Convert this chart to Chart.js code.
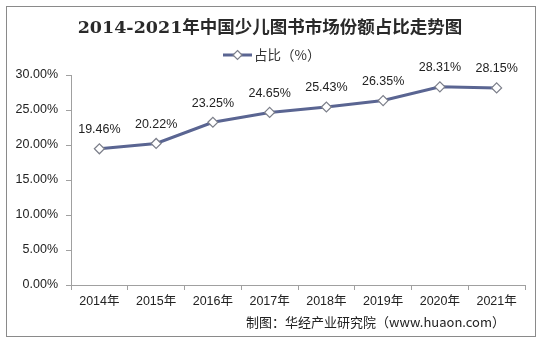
<!DOCTYPE html>
<html lang="zh-CN">
<head>
<meta charset="UTF-8">
<title>2014-2021年中国少儿图书市场份额占比走势图</title>
<script src="https://cdn.jsdelivr.net/npm/chart.js"></script>
<style>
  html, body { margin: 0; padding: 0; background: #fff; }
  #wrap { position: relative; width: 544px; height: 344px; }
</style>
</head>
<body>
<div id="wrap"><canvas id="myChart" width="544" height="344"></canvas></div>
<script>
// 年份与占比（%）
const years = ['2014年', '2015年', '2016年', '2017年', '2018年', '2019年', '2020年', '2021年'];
const share = [19.46, 20.22, 23.25, 24.65, 25.43, 26.35, 28.31, 28.15];
const yTicks = [0, 5, 10, 15, 20, 25, 30];

const titleText = '2014-2021年中国少儿图书市场份额占比走势图';
const legendText = '占比（%）';
const sourceText = '制图：华经产业研究院（www.huaon.com）';

const lineColor = '#5a6592';
const labelFont = '12.5px "Liberation Sans", Arial, "Noto Sans CJK SC", sans-serif';

// 边框、标题、图例、数据标签、来源
const decor = {
  id: 'decor',
  afterDraw(chart) {
    const ctx = chart.ctx;
    ctx.save();
    ctx.strokeStyle = '#8a8a8a';
    ctx.lineWidth = 1;
    ctx.strokeRect(6.5, 6.5, 529, 330);

    ctx.fillStyle = '#2a2a2a';
    ctx.textAlign = 'center';
    ctx.textBaseline = 'middle';
    ctx.font = 'bold 17.5px "DejaVu Serif", "Noto Sans CJK SC", serif';
    ctx.fillText(titleText, 270, 28);

    // 图例
    const lx = 223, ly = 55;
    ctx.strokeStyle = lineColor;
    ctx.lineWidth = 3;
    ctx.beginPath();
    ctx.moveTo(lx, ly);
    ctx.lineTo(lx + 29, ly);
    ctx.stroke();
    drawDiamond(ctx, lx + 14.5, ly, 4.5);
    ctx.fillStyle = '#333';
    ctx.textAlign = 'left';
    ctx.font = '13.5px "Noto Sans CJK SC", sans-serif';
    ctx.fillText(legendText, lx + 31, ly);

    // 数据标签
    const meta = chart.getDatasetMeta(0);
    ctx.font = labelFont;
    ctx.textAlign = 'center';
    ctx.textBaseline = 'middle';
    ctx.fillStyle = '#222';
    meta.data.forEach((pt, i) => {
      ctx.fillText(share[i].toFixed(2) + '%', pt.x, pt.y - 19);
    });

    ctx.font = '13px "Noto Sans CJK SC", sans-serif';
    ctx.textAlign = 'right';
    ctx.fillText(sourceText, 505, 322);
    ctx.restore();
  }
};

function drawDiamond(ctx, x, y, r) {
  ctx.save();
  ctx.fillStyle = '#fff';
  ctx.strokeStyle = '#7c7f8a';
  ctx.lineWidth = 1.2;
  ctx.beginPath();
  ctx.moveTo(x, y - r);
  ctx.lineTo(x + r, y);
  ctx.lineTo(x, y + r);
  ctx.lineTo(x - r, y);
  ctx.closePath();
  ctx.fill();
  ctx.stroke();
  ctx.restore();
}

new Chart(document.getElementById('myChart'), {
  type: 'line',
  data: {
    labels: years,
    datasets: [{
      label: legendText,
      data: share,
      borderColor: lineColor,
      borderWidth: 3,
      pointStyle: 'rectRot',
      pointRadius: 5,
      pointBackgroundColor: '#fff',
      pointBorderColor: '#7c7f8a',
      pointBorderWidth: 1.2,
      tension: 0
    }]
  },
  options: {
    responsive: false,
    animation: false,
    events: [],
    layout: { padding: { top: 75, left: 0, right: 19, bottom: 0 } },
    plugins: {
      legend: { display: false },
      title: { display: false },
      tooltip: { enabled: false }
    },
    scales: {
      x: {
        offset: true,
        grid: { offset: true, drawOnChartArea: false, tickLength: 5, color: '#a0a0a0' },
        border: { color: '#a0a0a0' },
        ticks: { color: '#222', font: { size: 12.5, family: '"Liberation Sans", Arial, "Noto Sans CJK SC", sans-serif' }, padding: 4, maxRotation: 0, autoSkip: false },
        afterFit(scale) { scale.height = 59; }
      },
      y: {
        min: 0,
        max: 30,
        afterBuildTicks(scale) { scale.ticks = yTicks.map(v => ({ value: v })); },
        grid: { drawOnChartArea: false, tickLength: 5, color: '#a0a0a0' },
        border: { color: '#a0a0a0' },
        ticks: {
          color: '#222',
          font: { size: 12.5, family: '"Liberation Sans", Arial, sans-serif' },
          padding: 8,
          callback: v => v.toFixed(2) + '%'
        },
        afterFit(scale) { scale.width = 71; }
      }
    }
  },
  plugins: [decor]
});
</script>
</body>
</html>
